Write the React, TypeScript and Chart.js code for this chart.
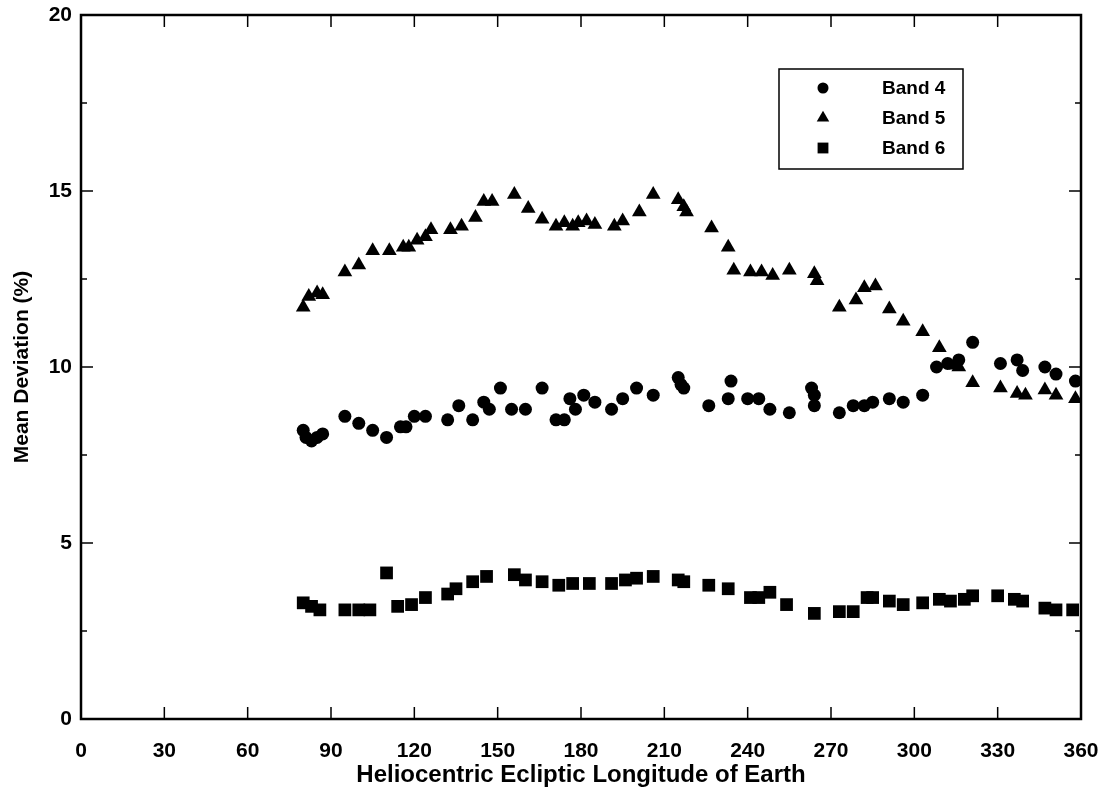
import React, { useEffect, useRef } from "react";
import { Chart, registerables } from "chart.js";

Chart.register(...registerables);

const xTicks = [0, 30, 60, 90, 120, 150, 180, 210, 240, 270, 300, 330, 360];
const yTicks = [0, 5, 10, 15, 20];

const band4X = [80, 81, 83, 85, 87, 95, 100, 105, 110, 115, 117, 120, 124, 132, 136, 141, 145, 147, 151, 155, 160, 166, 171, 174, 176, 178, 181, 185, 191, 195, 200, 206, 215, 216, 217, 226, 233, 234, 240, 244, 248, 255, 263, 264, 264, 273, 278, 282, 285, 291, 296, 303, 308, 312, 316, 321, 331, 337, 339, 347, 351, 358];
const band4Y = [8.2, 8.0, 7.9, 8.0, 8.1, 8.6, 8.4, 8.2, 8.0, 8.3, 8.3, 8.6, 8.6, 8.5, 8.9, 8.5, 9.0, 8.8, 9.4, 8.8, 8.8, 9.4, 8.5, 8.5, 9.1, 8.8, 9.2, 9.0, 8.8, 9.1, 9.4, 9.2, 9.7, 9.5, 9.4, 8.9, 9.1, 9.6, 9.1, 9.1, 8.8, 8.7, 9.4, 9.2, 8.9, 8.7, 8.9, 8.9, 9.0, 9.1, 9.0, 9.2, 10.0, 10.1, 10.2, 10.7, 10.1, 10.2, 9.9, 10.0, 9.8, 9.6];

const band5X = [80, 82, 85, 87, 95, 100, 105, 111, 116, 118, 121, 124, 126, 133, 137, 142, 145, 148, 156, 161, 166, 171, 174, 177, 179, 182, 185, 192, 195, 201, 206, 215, 217, 218, 227, 233, 235, 241, 245, 249, 255, 264, 265, 273, 279, 282, 286, 291, 296, 303, 309, 315, 316, 321, 331, 337, 340, 347, 351, 358];
const band5Y = [11.7, 12.0, 12.1, 12.05, 12.7, 12.9, 13.3, 13.3, 13.4, 13.4, 13.6, 13.7, 13.9, 13.9, 14.0, 14.25, 14.7, 14.7, 14.9, 14.5, 14.2, 14.0, 14.1, 14.0, 14.1, 14.15, 14.05, 14.0, 14.15, 14.4, 14.9, 14.75, 14.55, 14.4, 13.95, 13.4, 12.75, 12.7, 12.7, 12.6, 12.75, 12.65, 12.45, 11.7, 11.9, 12.25, 12.3, 11.65, 11.3, 11.0, 10.55, 10.05, 10.0, 9.55, 9.4, 9.25, 9.2, 9.35, 9.2, 9.1];

const band6X = [80, 83, 86, 95, 100, 104, 110, 114, 119, 124, 132, 135, 141, 146, 156, 160, 166, 172, 177, 183, 191, 196, 200, 206, 215, 217, 226, 233, 241, 244, 248, 254, 264, 273, 278, 283, 285, 291, 296, 303, 309, 313, 318, 321, 330, 336, 339, 347, 351, 357];
const band6Y = [3.3, 3.2, 3.1, 3.1, 3.1, 3.1, 4.15, 3.2, 3.25, 3.45, 3.55, 3.7, 3.9, 4.05, 4.1, 3.95, 3.9, 3.8, 3.85, 3.85, 3.85, 3.95, 4.0, 4.05, 3.95, 3.9, 3.8, 3.7, 3.45, 3.45, 3.6, 3.25, 3.0, 3.05, 3.05, 3.45, 3.45, 3.35, 3.25, 3.3, 3.4, 3.35, 3.4, 3.5, 3.5, 3.4, 3.35, 3.15, 3.1, 3.1];

const seriesNames = ["Band 4", "Band 5", "Band 6"];
const yMinorTicks = [2.5, 7.5, 12.5, 17.5];

const FONT = "'Liberation Sans', Arial, sans-serif";

const pts = (xs: number[], ys: number[]) => xs.map((x, i) => ({ x, y: ys[i] }));

const framePlugin = {
  id: "frameTicks",
  afterDraw(chart: any) {
    const { ctx, chartArea: a, scales } = chart;
    const xs = scales.x;
    const ys = scales.y;
    ctx.save();
    ctx.strokeStyle = "#000";
    ctx.lineWidth = 2.5;
    ctx.strokeRect(a.left, a.top, a.right - a.left, a.bottom - a.top);
    ctx.lineWidth = 1.5;
    ctx.beginPath();
    xTicks.forEach((v) => {
      const px = xs.getPixelForValue(v);
      ctx.moveTo(px, a.bottom);
      ctx.lineTo(px, a.bottom - 12);
      ctx.moveTo(px, a.top);
      ctx.lineTo(px, a.top + 12);
    });
    yTicks.forEach((v) => {
      const py = ys.getPixelForValue(v);
      ctx.moveTo(a.left, py);
      ctx.lineTo(a.left + 12, py);
      ctx.moveTo(a.right, py);
      ctx.lineTo(a.right - 12, py);
    });
    yMinorTicks.forEach((v) => {
      const py = ys.getPixelForValue(v);
      ctx.moveTo(a.left, py);
      ctx.lineTo(a.left + 6, py);
      ctx.moveTo(a.right, py);
      ctx.lineTo(a.right - 6, py);
    });
    ctx.stroke();

    // legend box
    const bx = 779, by = 69, bw = 184, bh = 100;
    ctx.lineWidth = 1.5;
    ctx.strokeRect(bx, by, bw, bh);
    const rowsY = [88, 118, 148];
    ctx.font = "bold 19px " + FONT;
    ctx.textBaseline = "middle";
    ctx.textAlign = "left";
    chart.data.datasets.forEach((ds: any, i: number) => {
      ctx.fillStyle = "#000";
      const style = ds.pointStyle;
      const r = ds.pointRadius * 0.85;
      ctx.beginPath();
      const cx = 823, cy = rowsY[i];
      if (style === "circle") {
        ctx.arc(cx, cy, r, 0, Math.PI * 2);
      } else if (style === "triangle") {
        ctx.moveTo(cx, cy - r);
        ctx.lineTo(cx + r * 0.866, cy + r * 0.5);
        ctx.lineTo(cx - r * 0.866, cy + r * 0.5);
        ctx.closePath();
      } else {
        const s = r * 0.707;
        ctx.rect(cx - s, cy - s, 2 * s, 2 * s);
      }
      ctx.fill();
      ctx.fillText(seriesNames[i], 882, cy + 1);
    });
    ctx.restore();
  },
};

export default function App() {
  const ref = useRef<HTMLCanvasElement | null>(null);
  useEffect(() => {
    document.body.style.margin = "0";
    const canvas = ref.current!;
    const chart = new Chart(canvas, {
      type: "scatter",
      data: {
        datasets: [
          { label: seriesNames[0], data: pts(band4X, band4Y), pointStyle: "circle", pointRadius: 6.5, backgroundColor: "#000", borderWidth: 0 },
          { label: seriesNames[1], data: pts(band5X, band5Y), pointStyle: "triangle", pointRadius: 8.5, backgroundColor: "#000", borderWidth: 0 },
          { label: seriesNames[2], data: pts(band6X, band6Y), pointStyle: "rect", pointRadius: 9, backgroundColor: "#000", borderWidth: 0 },
        ],
      },
      options: {
        animation: false,
        responsive: false,
        events: [],
        layout: { padding: { left: 0, right: 26, top: 15, bottom: 0 } },
        plugins: { legend: { display: false }, tooltip: { enabled: false } },
        scales: {
          x: {
            type: "linear",
            min: 0,
            max: 360,
            afterBuildTicks: (s: any) => { s.ticks = xTicks.map((v) => ({ value: v })); },
            afterFit: (s: any) => { s.height = 82; s.paddingLeft = 0; s.paddingRight = 0; },
            grid: { display: false, drawTicks: false },
            border: { display: false },
            ticks: { padding: 20, color: "#000", font: { family: FONT, size: 21, weight: "bold" }, maxRotation: 0 },
            title: { display: true, text: "Heliocentric Ecliptic Longitude of Earth", color: "#000", font: { family: FONT, size: 24, weight: "bold" }, padding: { top: 0, bottom: 11 } },
          },
          y: {
            type: "linear",
            min: 0,
            max: 20,
            afterBuildTicks: (s: any) => { s.ticks = yTicks.map((v) => ({ value: v })); },
            afterFit: (s: any) => { s.width = 81; s.paddingTop = 0; s.paddingBottom = 0; },
            grid: { display: false, drawTicks: false },
            border: { display: false },
            ticks: { padding: 9, color: "#000", font: { family: FONT, size: 21, weight: "bold" } },
            title: { display: true, text: "Mean Deviation (%)", color: "#000", font: { family: FONT, size: 21, weight: "bold" }, padding: { top: 10, bottom: 0 } },
          },
        },
      },
      plugins: [framePlugin],
    });
    return () => chart.destroy();
  }, []);
  return <canvas ref={ref} width={1107} height={801} style={{ display: "block" }} />;
}
